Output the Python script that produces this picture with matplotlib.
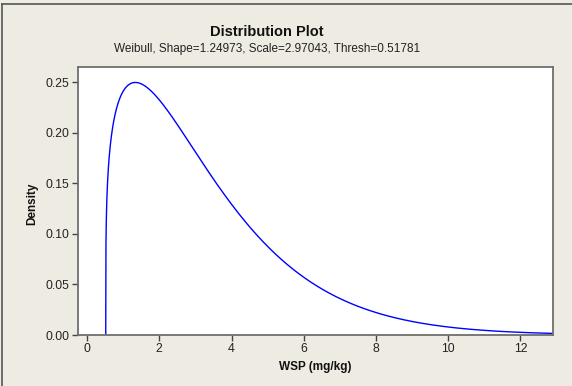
import numpy as np
import matplotlib
matplotlib.use("Agg")
import matplotlib.pyplot as plt

# Weibull distribution parameters (three-parameter form)
shape = 1.24973
scale = 2.97043
thresh = 0.51781

x_ticks = [0, 2, 4, 6, 8, 10, 12]
y_ticks = [0.00, 0.05, 0.10, 0.15, 0.20, 0.25]

plt.rcParams["font.family"] = ["Liberation Sans", "DejaVu Sans"]

bg = "#EEEBE2"
fig = plt.figure(figsize=(5.72, 3.86), dpi=100, facecolor=bg)
W, H = 572, 386

ax = fig.add_axes([78 / W, 1 - 335 / H, (553 - 78) / W, (335 - 67) / H])
ax.set_facecolor("white")

x = np.linspace(thresh, 13.0, 4000)
z = (x - thresh) / scale
pdf = (shape / scale) * z ** (shape - 1) * np.exp(-z ** shape)
x = np.concatenate([[thresh], x])
pdf = np.concatenate([[0.0], pdf])
ax.plot(x, pdf, color="#0000FF", lw=1.0)

ax.set_xlim(-0.25, 12.9)
ax.set_ylim(0, 0.265)
ax.set_xticks(x_ticks)
ax.set_xticklabels([str(t) for t in x_ticks])
ax.set_yticks(y_ticks)
ax.set_yticklabels([f"{t:.2f}" for t in y_ticks])

for s in ax.spines.values():
    s.set_color("#6E6E6E")
    s.set_linewidth(1.3)
ax.tick_params(direction="out", length=4, width=1, color="#444444",
               labelsize=8.8, labelcolor="#222222", pad=2)

ax.set_xlabel("WSP (mg/kg)", fontsize=8.5, fontweight="bold", color="#111111", labelpad=4)
ax.set_ylabel("Density", fontsize=8.5, fontweight="bold", color="#111111")
ax.yaxis.set_label_coords(-0.084, 0.49)

fig.text(267 / W, 1 - 32 / H, "Distribution Plot", ha="center", va="center",
         fontsize=10.5, fontweight="bold", color="#111111")
fig.text(267 / W, 1 - 49 / H, "Weibull, Shape=1.24973, Scale=2.97043, Thresh=0.51781",
         ha="center", va="center", fontsize=8.5, color="#222222")

# outer frame lines on top and left
fig.add_artist(plt.Line2D([2 / W, 1], [1 - 4 / H, 1 - 4 / H], transform=fig.transFigure,
                          color="#555555", lw=1.2))
fig.add_artist(plt.Line2D([2 / W, 2 / W], [0, 1 - 4 / H], transform=fig.transFigure,
                          color="#555555", lw=1.2))

fig.savefig("out.png", dpi=100, facecolor=bg)
